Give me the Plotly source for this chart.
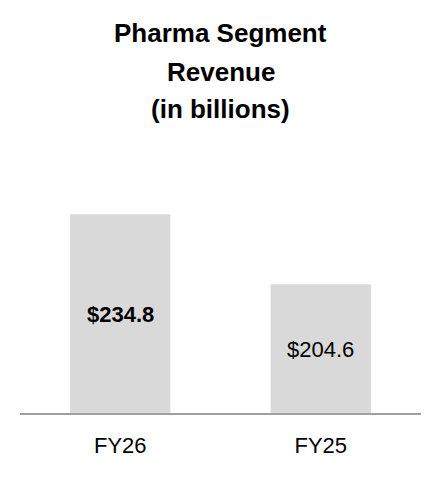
import plotly.graph_objects as go

# chart data
categories = ["FY26", "FY25"]
revenue = [234.8, 204.6]
value_labels = ["<b>$234.8</b>", "$204.6"]
title_lines = ["Pharma Segment", "Revenue", "(in billions)"]

AXIS_MIN = 149  # value axis does not start at zero in the reference
AXIS_MAX = 245.3

FONT = "Liberation Sans, Arial, sans-serif"
BAR_COLOR = "#d9d9d9"
AXIS_COLOR = "#a0a0a0"

fig = go.Figure(
    go.Bar(
        x=categories,
        y=revenue,
        marker=dict(color=BAR_COLOR, line=dict(width=0)),
        width=0.5,
        hoverinfo="skip",
    )
)

# value labels centred on the visible part of each bar
for cat, val, label in zip(categories, revenue, value_labels):
    fig.add_annotation(
        text=label,
        x=cat, y=(AXIS_MIN + val) / 2,
        xref="x", yref="y",
        yshift=-1,
        showarrow=False,
        font=dict(family=FONT, size=22, color="black"),
    )

# title as three separate lines so the line spacing can be matched
plot_top, plot_bottom = 190, 413
plot_h = plot_bottom - plot_top
for line, y_px in zip(title_lines, [33, 72, 109]):
    fig.add_annotation(
        text=f"<b>{line}</b>",
        x=0.5, xref="paper",
        y=(plot_bottom - y_px) / plot_h, yref="paper",
        xanchor="center", yanchor="middle",
        showarrow=False,
        font=dict(family=FONT, size=26, color="black"),
    )

fig.update_layout(
    width=440,
    height=480,
    margin=dict(l=20, r=19, t=plot_top, b=480 - plot_bottom),
    paper_bgcolor="white",
    plot_bgcolor="white",
    showlegend=False,
    hovermode=False,
    font=dict(family=FONT, color="black"),
)
fig.update_xaxes(
    showline=True,
    linecolor=AXIS_COLOR,
    linewidth=2,
    ticks="",
    showgrid=False,
    ticklabelstandoff=12,
    tickfont=dict(family=FONT, size=22, color="black"),
    range=[-0.5, 1.5],
)
fig.update_yaxes(
    range=[AXIS_MIN, AXIS_MAX],
    visible=False,
    showgrid=False,
    zeroline=False,
)

fig.write_html(
    "out.html",
    config={"displayModeBar": False},
    post_script="document.body.style.margin='0';",
)
